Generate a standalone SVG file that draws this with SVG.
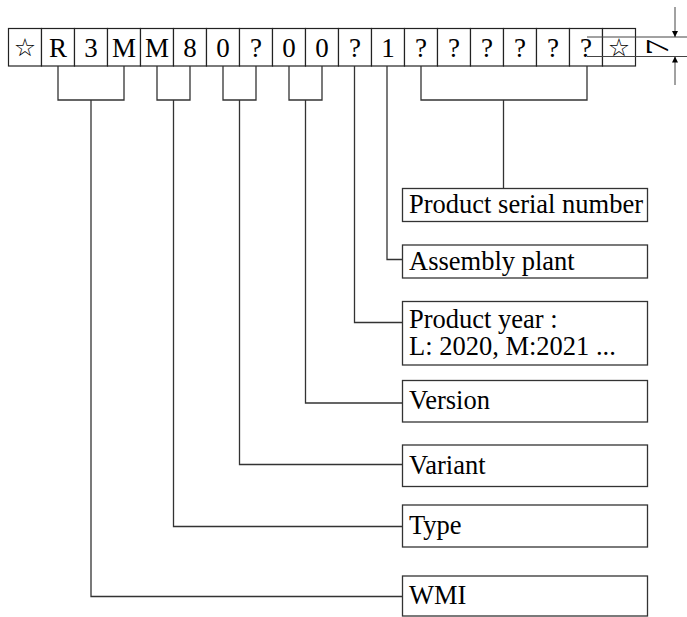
<svg xmlns="http://www.w3.org/2000/svg" width="687" height="617" viewBox="0 0 687 617">
  <style>
    .cell { fill: #fff; stroke: #222; stroke-width: 1.2; }
    .box { fill: #fff; stroke: #333; stroke-width: 1.3; }
    .ch { font-family: "Liberation Serif", "Times New Roman", serif; font-size: 27px; fill: #000; text-anchor: middle; }
    .star { font-family: "DejaVu Sans", sans-serif; font-size: 25px; fill: #000; text-anchor: middle; }
    .lbl { font-family: "Liberation Serif", "Times New Roman", serif; font-size: 26.5px; fill: #000; }
    .wire { fill: none; stroke: #333; stroke-width: 1.3; }
    .dim { fill: none; stroke: #444; stroke-width: 1; }
  </style>
  <defs>
    <marker id="arrow" viewBox="0 0 6 14" refX="6" refY="3" markerWidth="6" markerHeight="14" markerUnits="userSpaceOnUse" orient="auto">
      <path d="M0,0 L6,3 L0,6 Z" fill="#000"/>
    </marker>
  </defs>

  <rect width="687" height="617" fill="#fff"/>

  <!-- VIN character cells -->
  <g id="code">
    <rect class="cell" x="8.5" y="28.5" width="33" height="37.5"/>
    <rect class="cell" x="41.5" y="28.5" width="33" height="37.5"/>
    <rect class="cell" x="74.5" y="28.5" width="33" height="37.5"/>
    <rect class="cell" x="107.5" y="28.5" width="33" height="37.5"/>
    <rect class="cell" x="140.5" y="28.5" width="33" height="37.5"/>
    <rect class="cell" x="173.5" y="28.5" width="33" height="37.5"/>
    <rect class="cell" x="206.5" y="28.5" width="33" height="37.5"/>
    <rect class="cell" x="239.5" y="28.5" width="33" height="37.5"/>
    <rect class="cell" x="272.5" y="28.5" width="33" height="37.5"/>
    <rect class="cell" x="305.5" y="28.5" width="33" height="37.5"/>
    <rect class="cell" x="338.5" y="28.5" width="33" height="37.5"/>
    <rect class="cell" x="371.5" y="28.5" width="33" height="37.5"/>
    <rect class="cell" x="404.5" y="28.5" width="33" height="37.5"/>
    <rect class="cell" x="437.5" y="28.5" width="33" height="37.5"/>
    <rect class="cell" x="470.5" y="28.5" width="33" height="37.5"/>
    <rect class="cell" x="503.5" y="28.5" width="33" height="37.5"/>
    <rect class="cell" x="536.5" y="28.5" width="33" height="37.5"/>
    <rect class="cell" x="569.5" y="28.5" width="33" height="37.5"/>
    <rect class="cell" x="602.5" y="28.5" width="33" height="37.5"/>

    <text class="star" x="25" y="56">☆</text>
    <text class="ch" x="58" y="56.5">R</text>
    <text class="ch" x="91" y="56.5">3</text>
    <text class="ch" x="124" y="56.5">M</text>
    <text class="ch" x="157" y="56.5">M</text>
    <text class="ch" x="190" y="56.5">8</text>
    <text class="ch" x="223" y="56.5">0</text>
    <text class="ch" x="256" y="56.5">?</text>
    <text class="ch" x="289" y="56.5">0</text>
    <text class="ch" x="322" y="56.5">0</text>
    <text class="ch" x="355" y="56.5">?</text>
    <text class="ch" x="388" y="56.5">1</text>
    <text class="ch" x="421" y="56.5">?</text>
    <text class="ch" x="454" y="56.5">?</text>
    <text class="ch" x="487" y="56.5">?</text>
    <text class="ch" x="520" y="56.5">?</text>
    <text class="ch" x="553" y="56.5">?</text>
    <text class="ch" x="586" y="56.5">?</text>
    <text class="star" x="619" y="56">☆</text>
  </g>

  <!-- height dimension of the code row -->
  <g id="dimension">
    <line class="dim" x1="587" y1="37" x2="687" y2="37"/>
    <line class="dim" x1="587" y1="56.5" x2="687" y2="56.5"/>
    <line class="dim" x1="675" y1="7" x2="675" y2="37" marker-end="url(#arrow)"/>
    <line class="dim" x1="675" y1="85" x2="675" y2="56.5" marker-end="url(#arrow)"/>
    <text class="lbl" transform="translate(668 55) rotate(-90)" style="font-size:32px">7</text>
  </g>

  <!-- brackets and leader lines -->
  <g id="connectors">
    <path class="wire" d="M58,66 V100 H124 V66"/>
    <path class="wire" d="M157,66 V100 H190 V66"/>
    <path class="wire" d="M223,66 V100 H256 V66"/>
    <path class="wire" d="M289,66 V100 H322 V66"/>
    <path class="wire" d="M421,66 V100 H587 V66"/>

    <path class="wire" d="M503.5,100 V188.5"/>
    <path class="wire" d="M387,66 V259.5 H402.5"/>
    <path class="wire" d="M354.5,66 V322.5 H402.5"/>
    <path class="wire" d="M305.5,100 V403 H402.5"/>
    <path class="wire" d="M239.5,100 V464.5 H402.5"/>
    <path class="wire" d="M173.5,100 V526.5 H402.5"/>
    <path class="wire" d="M91,100 V596.5 H402.5"/>
  </g>

  <!-- field description boxes -->
  <g id="serial">
    <rect class="box" x="402.5" y="188.5" width="245" height="33"/>
    <text class="lbl" x="409" y="212.5">Product serial number</text>
  </g>
  <g id="plant">
    <rect class="box" x="402.5" y="245" width="245" height="33"/>
    <text class="lbl" x="409" y="270">Assembly plant</text>
  </g>
  <g id="year">
    <rect class="box" x="402.5" y="301.5" width="245" height="63.5"/>
    <text class="lbl" x="409" y="328">Product year :</text>
    <text class="lbl" x="409" y="355">L: 2020, M:2021 ...</text>
  </g>
  <g id="version">
    <rect class="box" x="402.5" y="380.5" width="245" height="41.5"/>
    <text class="lbl" x="409" y="408.5">Version</text>
  </g>
  <g id="variant">
    <rect class="box" x="402.5" y="445" width="245" height="41.5"/>
    <text class="lbl" x="409" y="473.5">Variant</text>
  </g>
  <g id="type">
    <rect class="box" x="402.5" y="505" width="245" height="42"/>
    <text class="lbl" x="409" y="533.5">Type</text>
  </g>
  <g id="wmi">
    <rect class="box" x="402.5" y="576" width="245" height="40"/>
    <text class="lbl" x="409" y="603.5">WMI</text>
  </g>
</svg>
